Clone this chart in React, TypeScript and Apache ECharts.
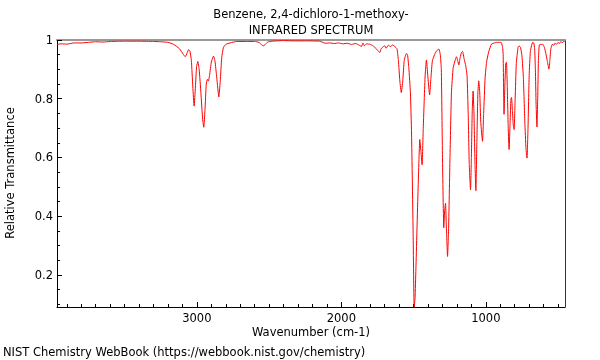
import React, { useEffect, useRef } from "react";
import * as echarts from "echarts";

const TITLE_LINE_1 = "Benzene, 2,4-dichloro-1-methoxy-";
const TITLE_LINE_2 = "INFRARED SPECTRUM";
const X_NAME = "Wavenumber (cm-1)";
const Y_NAME = "Relative Transmittance";
const FOOTER = "NIST Chemistry WebBook (https://webbook.nist.gov/chemistry)";

const WAVENUMBERS = [
  3968, 3940, 3900, 3850, 3800, 3750, 3700, 3650, 3600, 3500, 3400, 3300, 3250, 3200,
  3160, 3120, 3095, 3081, 3068, 3058, 3048, 3038, 3028, 3019, 3010, 3002, 2993, 2984,
  2972, 2960, 2952, 2944, 2935, 2927, 2920, 2912, 2900, 2885, 2875, 2862, 2848, 2838,
  2828, 2816, 2800, 2770, 2724, 2650, 2600, 2570, 2550, 2540, 2528, 2510, 2480, 2400,
  2333, 2250, 2150, 2111, 2080, 2050, 2020, 1990, 1960, 1930, 1900, 1875, 1861, 1850,
  1840, 1825, 1800, 1780, 1756, 1740, 1733, 1725, 1715, 1700, 1690, 1675, 1660, 1645,
  1630, 1615, 1605, 1595, 1585, 1575, 1565, 1550, 1542, 1533, 1522, 1514, 1503, 1496,
  1490, 1484, 1468, 1457, 1449, 1441, 1433, 1420, 1411, 1402, 1389, 1380, 1370, 1355,
  1341, 1325, 1315, 1308, 1300, 1291, 1285, 1279, 1272, 1265, 1258, 1248, 1238, 1226,
  1210, 1203, 1195, 1187, 1178, 1168, 1161, 1150, 1139, 1130, 1122, 1115, 1106, 1100,
  1094, 1088, 1082, 1075, 1069, 1062, 1055, 1049, 1042, 1035, 1023, 1015, 1005, 995,
  980, 961, 940, 926, 900, 892, 884, 880, 874, 868, 862, 857, 852, 845, 839, 832, 826,
  822, 816, 810, 804, 797, 789, 777, 770, 760, 750, 740, 730, 722, 715, 708, 700, 692,
  684, 676, 668, 662, 657, 652, 646, 641, 636, 630, 620, 605, 595, 585, 575, 563, 557,
  550, 540, 530, 520, 510, 500, 490, 480, 470, 460, 455,
];

const TRANSMITTANCE = [
  0.985, 0.987, 0.986, 0.99, 0.99, 0.992, 0.994, 0.993, 0.995, 0.996, 0.996, 0.995, 0.994, 0.992,
  0.985, 0.97, 0.952, 0.943, 0.955, 0.967, 0.962, 0.93, 0.84, 0.775, 0.84, 0.91, 0.927, 0.9,
  0.82, 0.73, 0.703, 0.76, 0.85, 0.866, 0.86, 0.88, 0.925, 0.945, 0.93, 0.87, 0.806, 0.86,
  0.94, 0.975, 0.985, 0.99, 0.995, 0.995, 0.995, 0.992, 0.983, 0.98, 0.984, 0.993, 0.996, 0.998,
  0.997, 0.997, 0.996, 0.989, 0.99, 0.988, 0.99, 0.987, 0.989, 0.985, 0.988, 0.982, 0.978, 0.99,
  0.98, 0.987, 0.985, 0.98, 0.969, 0.96, 0.958, 0.97, 0.975, 0.98, 0.972, 0.982, 0.978, 0.983,
  0.978, 0.97, 0.93, 0.86, 0.821, 0.86, 0.93, 0.954, 0.95, 0.906, 0.82, 0.68, 0.34, 0.09,
  0.12, 0.22, 0.507, 0.661, 0.62, 0.575, 0.7, 0.88, 0.932, 0.88, 0.813, 0.87, 0.929, 0.95,
  0.963, 0.969, 0.95, 0.9, 0.6, 0.361, 0.42, 0.444, 0.35, 0.263, 0.35, 0.6, 0.82, 0.906,
  0.935, 0.943, 0.93, 0.915, 0.94, 0.958, 0.961, 0.935, 0.912, 0.88, 0.75, 0.58, 0.49, 0.6,
  0.76, 0.826, 0.75, 0.58, 0.487, 0.65, 0.82, 0.861, 0.82, 0.72, 0.655, 0.75, 0.87, 0.924,
  0.96, 0.986, 0.99, 0.992, 0.992, 0.991, 0.975, 0.95, 0.747, 0.85, 0.92, 0.924, 0.85, 0.7, 0.627, 0.72, 0.8,
  0.804, 0.76, 0.71, 0.695, 0.8, 0.92, 0.975, 0.98, 0.975, 0.946, 0.87, 0.72, 0.63, 0.598, 0.7, 0.88, 0.96,
  0.98, 0.992, 0.99, 0.97, 0.9, 0.78, 0.704, 0.8, 0.93, 0.983, 0.985, 0.985, 0.975, 0.955, 0.93, 0.901, 0.93,
  0.97, 0.985, 0.982, 0.99, 0.985, 0.992, 0.988, 0.995, 0.99, 0.997, 0.994,
];

const X_MAJOR = [1000, 2000, 3000];
const X_MINOR = [
  500, 600, 700, 800, 900, 1100, 1200, 1300, 1400, 1500, 1600, 1700, 1800, 1900,
  2100, 2200, 2300, 2400, 2500, 2600, 2700, 2800, 2900, 3100, 3200, 3300, 3400,
  3500, 3600, 3700, 3800, 3900,
];
const Y_MAJOR = [0.2, 0.4, 0.6, 0.8, 1];
const Y_MINOR = [0.1, 0.15, 0.25, 0.3, 0.35, 0.45, 0.5, 0.55, 0.65, 0.7, 0.75, 0.85, 0.9, 0.95];

const X_MIN = 452;
const X_MAX = 3968;
const Y_MIN = 0.091;
const Y_MAX = 1.0;

const FONT = "DejaVu Sans";
const FS = 11.5;

export default function App() {
  const ref = useRef<HTMLDivElement>(null);

  useEffect(() => {
    if (!ref.current) return;
    const chart = echarts.init(ref.current, undefined, { renderer: "svg" });
    const data = WAVENUMBERS.map((w, i) => [w, TRANSMITTANCE[i]]);

    const baseX = {
      type: "value" as const,
      inverse: true,
      min: X_MIN,
      max: X_MAX,
      splitLine: { show: false },
    };
    const baseY = {
      type: "value" as const,
      min: Y_MIN,
      max: Y_MAX,
      splitLine: { show: false },
    };

    chart.setOption({
      animation: false,
      grid: { left: 57, right: 35, top: 40, bottom: 53, containLabel: false },
      xAxis: [
        {
          ...baseX,
          position: "bottom",
          axisLine: { show: true, lineStyle: { color: "#000", width: 1 } },
          axisTick: { show: true, inside: true, length: 5, customValues: X_MAJOR, lineStyle: { color: "#000" } },
          axisLabel: {
            show: true,
            customValues: X_MAJOR,
            color: "#000",
            fontSize: FS,
            fontFamily: FONT,
            margin: 5,
            formatter: (v: number) => String(v),
          },
        },
        {
          ...baseX,
          position: "bottom",
          axisLine: { show: false },
          axisTick: { show: true, inside: true, length: 3, customValues: X_MINOR, lineStyle: { color: "#000" } },
          axisLabel: { show: false },
        },
        {
          ...baseX,
          position: "top",
          axisLine: { show: true, lineStyle: { color: "#999", width: 2 } },
          axisTick: { show: false },
          axisLabel: { show: false },
        },
      ],
      yAxis: [
        {
          ...baseY,
          position: "left",
          axisLine: { show: true, lineStyle: { color: "#000", width: 1 } },
          axisTick: { show: true, inside: true, length: 5, customValues: Y_MAJOR, lineStyle: { color: "#000" } },
          axisLabel: {
            show: true,
            customValues: Y_MAJOR,
            color: "#000",
            fontSize: FS,
            fontFamily: FONT,
            margin: 4,
            formatter: (v: number) => String(v),
          },
        },
        {
          ...baseY,
          position: "left",
          axisLine: { show: false },
          axisTick: { show: true, inside: true, length: 3, customValues: Y_MINOR, lineStyle: { color: "#000" } },
          axisLabel: { show: false },
        },
        {
          ...baseY,
          position: "right",
          axisLine: { show: true, lineStyle: { color: "#333", width: 1 } },
          axisTick: { show: false },
          axisLabel: { show: false },
        },
      ],
      graphic: [
        {
          type: "text",
          x: 311,
          y: 14,
          style: { text: TITLE_LINE_1, fill: "#000", font: `${FS}px "${FONT}"`, align: "center", verticalAlign: "middle" },
        },
        {
          type: "text",
          x: 311,
          y: 30,
          style: { text: TITLE_LINE_2, fill: "#000", font: `${FS}px "${FONT}"`, align: "center", verticalAlign: "middle" },
        },
        {
          type: "text",
          x: 311,
          y: 332,
          style: { text: X_NAME, fill: "#000", font: `${FS}px "${FONT}"`, align: "center", verticalAlign: "middle" },
        },
        {
          type: "text",
          x: 10,
          y: 173,
          rotation: Math.PI / 2,
          style: { text: Y_NAME, fill: "#000", font: `${FS}px "${FONT}"`, align: "center", verticalAlign: "middle" },
        },
        {
          type: "text",
          x: 3,
          y: 352,
          style: { text: FOOTER, fill: "#000", font: `${FS}px "${FONT}"`, align: "left", verticalAlign: "middle" },
        },
      ],
      series: [
        {
          type: "line",
          xAxisIndex: 0,
          yAxisIndex: 0,
          data,
          showSymbol: false,
          smooth: 0.15,
          clip: true,
          lineStyle: { color: "#ff0000", width: 1 },
        },
      ],
    });

    return () => chart.dispose();
  }, []);

  return <div ref={ref} style={{ width: 600, height: 360, position: "fixed", left: 0, top: 0 }} />;
}
